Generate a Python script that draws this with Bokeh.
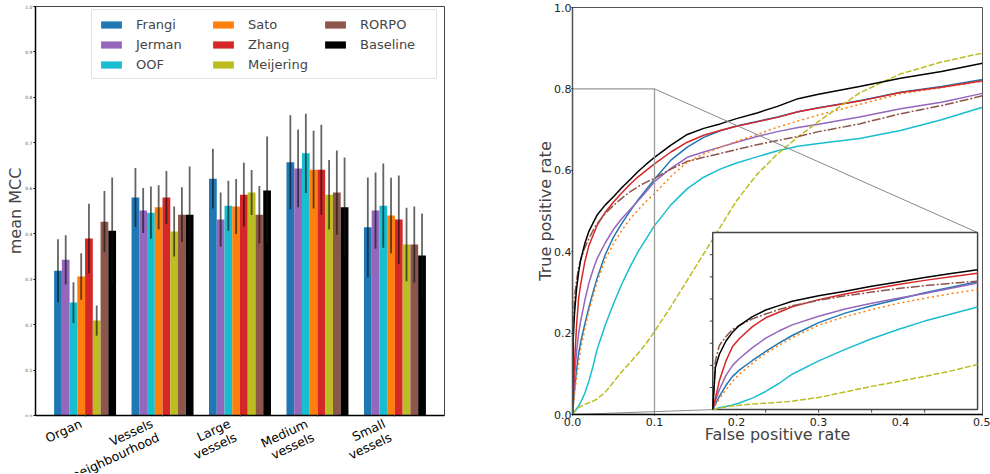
import math
from bokeh.plotting import figure
from bokeh.models import (Range1d, FixedTicker, Legend, LegendItem,
                          ColumnDataSource, CustomJSTickFormatter)
from bokeh.core.properties import value
from bokeh.layouts import row, column
from bokeh.embed import file_html
from bokeh.resources import INLINE

FONT = "DejaVu Sans"

# ---------------- data: left panel (mean MCC per region) ----------------
categories = ["Organ", "Vessels\nneighbourhood", "Large\nvessels",
              "Medium\nvessels", "Small\nvessels"]
methods = ["Frangi", "Jerman", "OOF", "Sato", "Zhang", "Meijering", "RORPO", "Baseline"]
colors = ["#1f77b4", "#9467bd", "#17becf", "#ff7f0e", "#d62728", "#bcbd22", "#8c564b", "#000000"]

mcc_frangi    = [0.354, 0.533, 0.579, 0.619, 0.460]
mcc_jerman    = [0.381, 0.501, 0.479, 0.604, 0.501]
mcc_oof       = [0.276, 0.496, 0.513, 0.641, 0.513]
mcc_sato      = [0.340, 0.509, 0.511, 0.601, 0.489]
mcc_zhang     = [0.433, 0.533, 0.540, 0.601, 0.479]
mcc_meijering = [0.232, 0.450, 0.545, 0.540, 0.418]
mcc_rorpo     = [0.474, 0.491, 0.491, 0.545, 0.418]
mcc_baseline  = [0.452, 0.491, 0.550, 0.509, 0.391]

std_frangi    = [0.077, 0.072, 0.073, 0.115, 0.122]
std_jerman    = [0.060, 0.055, 0.066, 0.095, 0.093]
std_oof       = [0.050, 0.064, 0.061, 0.097, 0.103]
std_sato      = [0.057, 0.054, 0.067, 0.095, 0.092]
std_zhang     = [0.085, 0.065, 0.078, 0.110, 0.108]
std_meijering = [0.037, 0.061, 0.055, 0.085, 0.090]
std_rorpo     = [0.075, 0.067, 0.070, 0.103, 0.093]
std_baseline  = [0.130, 0.118, 0.132, 0.122, 0.103]

mcc_all = [mcc_frangi, mcc_jerman, mcc_oof, mcc_sato, mcc_zhang, mcc_meijering, mcc_rorpo, mcc_baseline]
std_all = [std_frangi, std_jerman, std_oof, std_sato, std_zhang, std_meijering, std_rorpo, std_baseline]

mcc_ticks = [k / 9 for k in range(10)]

# ---------------- data: right panel (ROC curves) ----------------
fpr = [0, 0.001, 0.0025, 0.005, 0.0075, 0.01, 0.015, 0.02, 0.025, 0.03, 0.04, 0.05,
       0.06, 0.07, 0.08, 0.09, 0.1, 0.12, 0.14, 0.16, 0.18, 0.2, 0.225, 0.25, 0.275,
       0.3, 0.35, 0.4, 0.45, 0.5]
tpr_frangi    = [0, 0.025, 0.06, 0.11, 0.15, 0.178, 0.222, 0.263, 0.30, 0.335, 0.393, 0.436,
                 0.469, 0.499, 0.528, 0.553, 0.578, 0.625, 0.657, 0.681, 0.697, 0.709, 0.720,
                 0.731, 0.744, 0.754, 0.771, 0.792, 0.806, 0.823]
tpr_jerman    = [0, 0.04, 0.09, 0.155, 0.20, 0.23, 0.28, 0.323, 0.355, 0.383, 0.422, 0.455,
                 0.481, 0.503, 0.525, 0.548, 0.572, 0.605, 0.632, 0.645, 0.657, 0.669, 0.683,
                 0.695, 0.705, 0.713, 0.731, 0.751, 0.767, 0.789]
tpr_oof       = [0, 0.003, 0.008, 0.014, 0.021, 0.03, 0.052, 0.082, 0.118, 0.16, 0.22, 0.272,
                 0.32, 0.362, 0.40, 0.432, 0.464, 0.515, 0.555, 0.583, 0.603, 0.618, 0.633,
                 0.648, 0.659, 0.666, 0.678, 0.698, 0.724, 0.755]
tpr_sato      = [0, 0.02, 0.05, 0.09, 0.128, 0.16, 0.21, 0.255, 0.29, 0.325, 0.382, 0.42,
                 0.452, 0.48, 0.503, 0.524, 0.543, 0.585, 0.62, 0.64, 0.656, 0.671, 0.688,
                 0.706, 0.721, 0.736, 0.762, 0.788, 0.803, 0.819]
tpr_zhang     = [0, 0.05, 0.13, 0.22, 0.285, 0.32, 0.375, 0.415, 0.44, 0.465, 0.497, 0.522,
                 0.544, 0.565, 0.584, 0.60, 0.616, 0.645, 0.669, 0.686, 0.698, 0.708, 0.719,
                 0.730, 0.744, 0.753, 0.770, 0.791, 0.804, 0.820]
tpr_meijering = [0, 0.003, 0.007, 0.012, 0.017, 0.02, 0.025, 0.029, 0.033, 0.038, 0.055, 0.08,
                 0.105, 0.127, 0.15, 0.175, 0.204, 0.265, 0.33, 0.395, 0.46, 0.525, 0.59,
                 0.64, 0.682, 0.72, 0.79, 0.837, 0.866, 0.888]
tpr_rorpo     = [0, 0.22, 0.29, 0.33, 0.362, 0.38, 0.41, 0.432, 0.452, 0.469, 0.494, 0.514,
                 0.531, 0.547, 0.56, 0.571, 0.58, 0.603, 0.622, 0.632, 0.641, 0.651, 0.663,
                 0.673, 0.683, 0.695, 0.714, 0.739, 0.759, 0.783]
tpr_baseline  = [0, 0.19, 0.25, 0.31, 0.35, 0.38, 0.42, 0.45, 0.47, 0.49, 0.515, 0.535,
                 0.557, 0.577, 0.597, 0.615, 0.632, 0.662, 0.688, 0.703, 0.714, 0.727, 0.741,
                 0.757, 0.776, 0.787, 0.806, 0.826, 0.843, 0.863]
tpr_all = [tpr_frangi, tpr_jerman, tpr_oof, tpr_sato, tpr_zhang, tpr_meijering, tpr_rorpo, tpr_baseline]
roc_dash = ["solid", "solid", "solid", "2 3", "solid", "6 2", "9 2 2 2", "solid"]

roc_xticks = [0, 0.1, 0.2, 0.3, 0.4, 0.5]
roc_yticks = [0, 0.2, 0.4, 0.6, 0.8, 1.0]

# zoomed region and inset placement (in main-axes data coordinates)
zoom_x = (0.0, 0.1)
zoom_y = (0.0, 0.8)
inset_left, inset_right, inset_bottom, inset_top = 0.171, 0.494, 0.012, 0.447
inset_xticks = [0.02, 0.04, 0.06, 0.08]
inset_yticks = [0.1, 0.2, 0.3, 0.4, 0.5, 0.6, 0.7]

fmt1 = CustomJSTickFormatter(code="return tick.toFixed(1);")
fmt_blank = CustomJSTickFormatter(code="return '';")

# ======================= LEFT PANEL =======================
X_RANGE = Range1d(-0.64, 4.64)
p1 = figure(width=524, height=417, x_range=X_RANGE, y_range=Range1d(0, 1),
            output_backend="svg", toolbar_location=None,
            min_border_left=35, min_border_right=80, min_border_top=6, min_border_bottom=2)
p1.grid.visible = False
p1.outline_line_color = "#444"

bar_w = 0.1
items = []
for j, (name, col) in enumerate(zip(methods, colors)):
    xs = [g + (j - 3.5) * bar_w for g in range(len(categories))]
    src = ColumnDataSource(dict(x=xs, top=mcc_all[j]))
    r = p1.vbar(x="x", top="top", bottom=0, width=bar_w, source=src,
                fill_color=col, line_color=None)
    items.append(LegendItem(label=name, renderers=[r]))
for j in range(len(methods)):
    xs = [g + (j - 3.5) * bar_w for g in range(len(categories))]
    vals = mcc_all[j]
    errs = std_all[j]
    p1.segment(x0=xs, x1=xs, y0=[v - e for v, e in zip(vals, errs)],
               y1=[v + e for v, e in zip(vals, errs)],
               line_color="#111", line_alpha=0.65, line_width=1.8)

p1.xaxis.ticker = FixedTicker(ticks=list(range(len(categories))))
p1.xaxis.formatter = fmt_blank
p1.xaxis.major_label_standoff = 0
p1.xaxis.major_tick_out = 2
p1.xaxis.major_tick_in = 0
p1.xaxis.major_tick_line_color = "#888"
p1.xaxis.minor_tick_line_color = None
p1.xaxis.axis_line_color = "black"
p1.xaxis.axis_line_width = 1.5

p1.yaxis.ticker = FixedTicker(ticks=mcc_ticks)
p1.yaxis.formatter = fmt1
p1.yaxis.major_label_text_font_size = "4.5px"
p1.yaxis.major_label_text_color = "#555"
p1.yaxis.major_label_text_font = FONT
p1.yaxis.major_label_standoff = 1
p1.yaxis.major_tick_out = 2
p1.yaxis.major_tick_in = 0
p1.yaxis.minor_tick_line_color = None
p1.yaxis.axis_line_color = "black"
p1.yaxis.axis_line_width = 1.5
p1.yaxis.axis_label = "mean MCC"
p1.yaxis.axis_label_text_font = FONT
p1.yaxis.axis_label_text_font_size = "16px"
p1.yaxis.axis_label_text_font_style = "normal"
p1.yaxis.axis_label_standoff = -3

legend = Legend(items=items, location=(56, 336), orientation="vertical", nrows=3,
                label_text_font=FONT, label_text_font_size="13px",
                glyph_width=26, glyph_height=9, label_standoff=12,
                label_width=70, label_height=16, spacing=4, padding=6, margin=0,
                border_line_color="#cccccc", border_line_width=1,
                background_fill_alpha=0.85)
p1.add_layout(legend)

# rotated, right-aligned category labels, in a strip below the bars
LAB_H = 56
p_lab = figure(width=524, height=LAB_H, x_range=X_RANGE, y_range=Range1d(-LAB_H, 0),
               x_axis_type=None, y_axis_type=None, output_backend="svg",
               toolbar_location=None, min_border_left=35, min_border_right=80,
               min_border_top=0, min_border_bottom=0)
p_lab.grid.visible = False
p_lab.outline_line_color = None
ang = 25
line_sp = 15.0
lx, ly, lt, lxo = [], [], [], []
for g, cat in enumerate(categories):
    lines = cat.split("\n")
    n = len(lines)
    for i, ln in enumerate(lines):
        lx.append(g)
        lt.append(ln)
        lxo.append(-1 - (n - 1 - i) * line_sp * math.sin(math.radians(ang)))
        ly.append(-(12 + i * line_sp * math.cos(math.radians(ang))))
p_lab.text(x="x", y="y", text="t", x_offset="xo",
           source=ColumnDataSource(dict(x=lx, y=ly, t=lt, xo=lxo)),
           angle=ang, angle_units="deg", text_align="right", text_baseline="bottom",
           text_font=value(FONT), text_font_size=value("12.5px"), text_color="black")

# ======================= RIGHT PANEL =======================
p2 = figure(width=466, height=473, x_range=Range1d(0, 0.5), y_range=Range1d(0, 1),
            output_backend="svg", toolbar_location=None,
            min_border_left=48, min_border_right=8, min_border_top=7, min_border_bottom=59)
p2.grid.visible = False
p2.outline_line_color = "#555"

sx = (zoom_x[1] - zoom_x[0]) / (inset_right - inset_left)
sy = (zoom_y[1] - zoom_y[0]) / (inset_top - inset_bottom)
p2.extra_x_ranges = {"inset_x": Range1d(zoom_x[0] + (0 - inset_left) * sx,
                                        zoom_x[0] + (0.5 - inset_left) * sx)}
p2.extra_y_ranges = {"inset_y": Range1d(zoom_y[0] + (0 - inset_bottom) * sy,
                                        zoom_y[0] + (1 - inset_bottom) * sy)}

for tpr, col, dash in zip(tpr_all, colors, roc_dash):
    p2.line(fpr, tpr, line_color=col, line_width=1.5, line_dash=dash)

# zoom rectangle and connectors
p2.quad(left=zoom_x[0], right=zoom_x[1], bottom=zoom_y[0], top=zoom_y[1],
        fill_color=None, line_color="#9a9a9a", line_width=1.3)
p2.segment(x0=[zoom_x[1], zoom_x[0]], y0=[zoom_y[1], zoom_y[0]],
           x1=[inset_right, inset_left], y1=[inset_top, inset_bottom],
           line_color="#8a8a8a", line_width=1)

# inset
p2.quad(left=inset_left, right=inset_right, bottom=inset_bottom, top=inset_top,
        fill_color="white", line_color="#444", line_width=1.5)
k = sum(1 for v in fpr if v <= zoom_x[1])
for tpr, col, dash in zip(tpr_all, colors, roc_dash):
    p2.line(fpr[:k], tpr[:k], line_color=col, line_width=1.5, line_dash=dash,
            x_range_name="inset_x", y_range_name="inset_y")
p2.ray(x=[0] * len(inset_yticks), y=inset_yticks, length=3, length_units="screen",
       angle=math.pi, line_color="#444", line_width=1,
       x_range_name="inset_x", y_range_name="inset_y")
p2.ray(x=inset_xticks, y=[0] * len(inset_xticks), length=3, length_units="screen",
       angle=-math.pi / 2, line_color="#444", line_width=1,
       x_range_name="inset_x", y_range_name="inset_y")

for ax, ticks in ((p2.xaxis, roc_xticks), (p2.yaxis, roc_yticks)):
    ax.ticker = FixedTicker(ticks=ticks)
    ax.formatter = fmt1
    ax.major_label_text_font = FONT
    ax.major_label_text_font_size = "11px"
    ax.major_label_text_color = "#222"
    ax.major_tick_out = 1
    ax.major_tick_in = 0
    ax.minor_tick_line_color = None
    ax.axis_label_text_font = FONT
    ax.axis_label_text_font_size = "16px"
    ax.axis_label_text_font_style = "normal"
p2.xaxis.major_label_standoff = 2
p2.xaxis.axis_label_standoff = -4
p2.yaxis.major_label_standoff = 0
p2.yaxis.axis_label_standoff = -4
p2.xaxis.axis_label = "False positive rate"
p2.yaxis.axis_label = "True positive rate"
p2.xaxis.axis_line_color = "black"
p2.xaxis.axis_line_width = 1.5
p2.yaxis.axis_line_color = "#555"
p2.yaxis.axis_line_width = 1.5

layout = row(column(p1, p_lab), p2)
open("out.html", "w").write(file_html(layout, INLINE))
